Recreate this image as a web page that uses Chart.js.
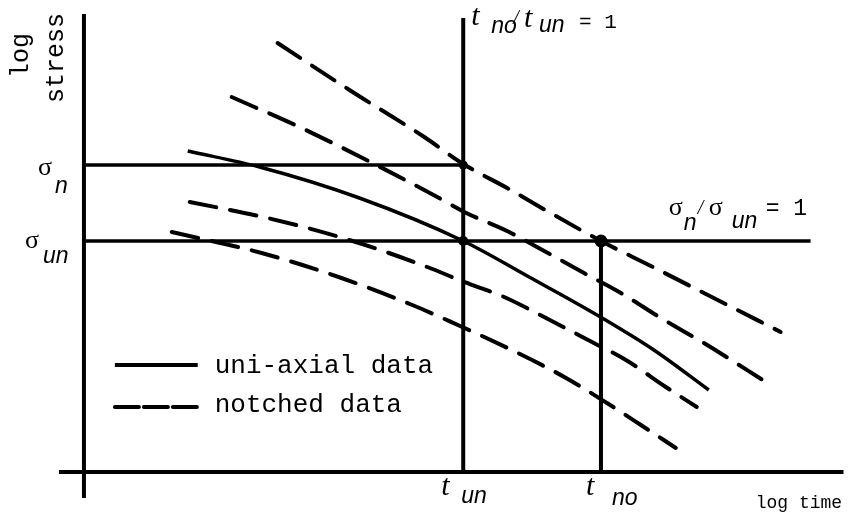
<!DOCTYPE html>
<html>
<head>
<meta charset="utf-8">
<script src="https://cdn.jsdelivr.net/npm/chart.js@4.4.1/dist/chart.umd.min.js"></script>
<style>
  html, body { margin: 0; padding: 0; background: #fff; }
  #wrap { width: 850px; height: 526px; }
</style>
</head>
<body>
<div id="wrap"><canvas id="c" width="850" height="526"></canvas></div>
<script>
// ---- data (arbitrary log units; origin at the axes crossing) ----
const xRange = [-2.5, 76.1];       // log time axis extent
const yRange = [-2.6, 46.2];       // log stress axis extent
const timeAxisEnd = 76.1;
const stressAxisTop = 45.8;
const stressAxisBottom = -2.6;

const sigmaN = 30.7;               // σ_n level
const sigmaUn = 23.1;              // σ_un level
const tUn = 38.0;                  // t_un
const tNo = 51.8;                  // t_no
const sigmaUnLineEnd = 72.8;
const tUnLineTop = 45.4;

const uniX = [10.4, 17.6, 27.6, 38.0, 44.6, 51.4, 57.1, 62.6];
const uniY = [32.1, 30.5, 27.4, 23.1, 19.5, 15.7, 12.2, 8.2];

const notchAX = [19.4, 26.6, 34.1, 38.0, 42.4, 46.4, 51.8, 56.8, 62.9, 69.8];
const notchAY = [42.9, 38.2, 33.5, 30.8, 28.4, 26.1, 23.1, 20.6, 17.5, 14.0];

const notchBX = [14.8, 21.8, 28.9, 35.4, 38.1, 42.6, 46.3, 50.1, 53.8, 57.8, 62.1, 68.8];
const notchBY = [37.5, 34.4, 30.9, 27.5, 26.0, 24.0, 22.0, 19.9, 17.9, 15.4, 12.9, 8.7];

const notchCX = [10.6, 18.4, 26.6, 34.4, 38.1, 42.1, 46.1, 50.9, 54.3, 58.3, 61.4];
const notchCY = [27.0, 25.4, 23.2, 20.5, 19.0, 17.5, 15.5, 13.0, 11.2, 8.5, 6.5];

const notchDX = [8.8, 17.8, 25.8, 32.9, 37.9, 40.1, 44.9, 48.3, 52.4, 55.8, 59.3];
const notchDY = [24.0, 21.9, 19.4, 16.7, 14.5, 13.5, 11.2, 9.4, 6.9, 4.7, 2.4];

const legendNames = ['uni-axial data', 'notched data'];
const legendSampleX = [3.1, 11.4];
const legendSampleY = [10.7, 6.5];

// ---- helpers ----
const pts = (xs, ys) => xs.map((x, i) => ({x, y: ys[i]}));
const BLACK = '#000';

function lineDs(data, width, dash) {
  return {
    data, showLine: true, borderColor: BLACK, borderWidth: width,
    borderDash: dash || [], borderCapStyle: dash ? 'round' : 'butt',
    pointRadius: 0, pointHoverRadius: 0, clip: false, fill: false,
    cubicInterpolationMode: 'monotone'
  };
}

const datasets = [
  // axes
  lineDs([{x: xRange[0], y: 0}, {x: timeAxisEnd, y: 0}], 4),
  lineDs([{x: 0, y: stressAxisBottom}, {x: 0, y: stressAxisTop}], 4),
  // reference lines
  lineDs([{x: 0, y: sigmaN}, {x: tUn, y: sigmaN}], 3.5),
  lineDs([{x: 0, y: sigmaUn}, {x: sigmaUnLineEnd, y: sigmaUn}], 3.5),
  lineDs([{x: tUn, y: 0}, {x: tUn, y: tUnLineTop}], 4),
  lineDs([{x: tNo, y: 0}, {x: tNo, y: sigmaUn}], 4),
  // curves
  lineDs(pts(uniX, uniY), 3.5),
  lineDs(pts(notchAX, notchAY), 4, [27, 14]),
  lineDs(pts(notchBX, notchBY), 4, [27, 14]),
  lineDs(pts(notchCX, notchCY), 4, [27, 14]),
  lineDs(pts(notchDX, notchDY), 4, [27, 14]),
  // legend samples
  lineDs([{x: legendSampleX[0], y: legendSampleY[0]}, {x: legendSampleX[1], y: legendSampleY[0]}], 4),
  lineDs([{x: legendSampleX[0], y: legendSampleY[1]}, {x: legendSampleX[1], y: legendSampleY[1]}], 4, [24, 5]),
  // intersection dots
  {
    data: [{x: tUn, y: sigmaN}, {x: tUn, y: sigmaUn}, {x: tNo, y: sigmaUn}],
    showLine: false, pointRadius: [4.5, 5, 6.5], pointBackgroundColor: BLACK,
    pointBorderColor: BLACK, pointBorderWidth: 0, clip: false
  }
];

const MONO = '"Liberation Mono", "DejaVu Sans Mono", monospace';
const SERIF = '"Liberation Serif", "DejaVu Serif", serif';
const SUB = 'italic 23px "Liberation Sans", "DejaVu Sans", sans-serif';
const TT = 'italic 30px "Liberation Serif", "DejaVu Serif", serif';

// text labels (anchors in data units)
const labels = [
  {t: 'σ', x: -4.6, y: 29.7, f: '26px ' + SERIF},
  {t: 'n', x: -2.9, y: 27.9, f: SUB},
  {t: 'σ', x: -5.9, y: 22.4, f: '26px ' + SERIF},
  {t: 'un', x: -4.1, y: 20.9, f: SUB},

  {t: 't', x: 38.8, y: 44.7, f: TT},
  {t: 'no', x: 40.8, y: 43.9, f: SUB},
  {t: '/', x: 43.0, y: 44.8, f: 'italic 20px ' + SERIF},
  {t: 't', x: 44.1, y: 44.5, f: TT},
  {t: 'un', x: 45.6, y: 44.0, f: SUB},
  {t: '= 1', x: 49.6, y: 44.4, f: '21px ' + MONO},

  {t: 'σ', x: 58.6, y: 25.7, f: '26px ' + SERIF},
  {t: 'n', x: 60.1, y: 24.2, f: SUB},
  {t: '/', x: 61.5, y: 25.8, f: 'italic 20px ' + SERIF},
  {t: 'σ', x: 62.6, y: 25.7, f: '26px ' + SERIF},
  {t: 'un', x: 64.9, y: 24.4, f: SUB},
  {t: '= 1', x: 68.3, y: 25.7, f: '23px ' + MONO},

  {t: 't', x: 35.8, y: -2.3, f: TT},
  {t: 'un', x: 37.8, y: -3.1, f: SUB},
  {t: 't', x: 50.3, y: -2.3, f: TT},
  {t: 'no', x: 52.9, y: -3.3, f: SUB},
  {t: 'log time', x: 67.3, y: -3.6, f: '18px ' + MONO},

  {t: legendNames[0], x: 13.1, y: 9.9, f: '26px ' + MONO},
  {t: legendNames[1], x: 13.1, y: 6.0, f: '26px ' + MONO},

  {t: 'log', x: -5.6, y: 39.4, f: '25px ' + MONO, rot: true},
  {t: 'stress', x: -2.1, y: 36.9, f: '25px ' + MONO, rot: true}
];

const textPlugin = {
  id: 'texts',
  afterDatasetsDraw(chart) {
    const {ctx, scales: {x, y}} = chart;
    ctx.save();
    ctx.fillStyle = BLACK;
    ctx.textBaseline = 'alphabetic';
    ctx.textAlign = 'left';
    for (const l of labels) {
      const px = x.getPixelForValue(l.x), py = y.getPixelForValue(l.y);
      ctx.font = l.f;
      if (l.rot) {
        ctx.save();
        ctx.translate(px, py);
        ctx.rotate(-Math.PI / 2);
        ctx.fillText(l.t, 0, 0);
        ctx.restore();
      } else {
        ctx.fillText(l.t, px, py);
      }
    }
    ctx.restore();
  }
};

new Chart(document.getElementById('c'), {
  type: 'scatter',
  data: {datasets},
  options: {
    responsive: false,
    animation: false,
    events: [],
    layout: {padding: {left: 59, right: 5, top: 10, bottom: 28}},
    plugins: {legend: {display: false}, tooltip: {enabled: false}},
    scales: {
      x: {type: 'linear', min: xRange[0], max: xRange[1], display: false},
      y: {type: 'linear', min: yRange[0], max: yRange[1], display: false}
    }
  },
  plugins: [textPlugin]
});
</script>
</body>
</html>
